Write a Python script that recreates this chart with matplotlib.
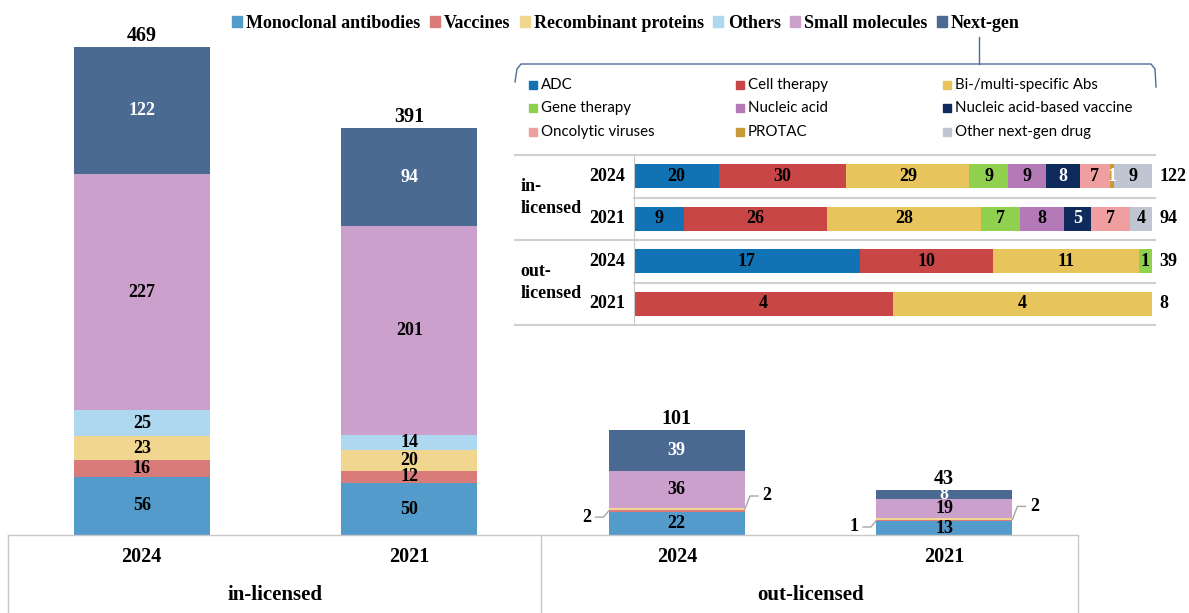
import matplotlib
matplotlib.use('Agg')
import matplotlib.pyplot as plt
from matplotlib.patches import Rectangle
from matplotlib.lines import Line2D
import numpy as np

plt.rcParams['font.family'] = ['Liberation Serif', 'DejaVu Serif']
plt.rcParams['font.weight'] = 'bold'

# main chart data
groups = ['in-licensed', 'out-licensed']
years = ['2024', '2021', '2024', '2021']
modalities = ['Monoclonal antibodies', 'Vaccines', 'Recombinant proteins',
              'Others', 'Small molecules', 'Next-gen']
monoclonal = [56, 50, 22, 13]
vaccines = [16, 12, 2, 1]
recombinant = [23, 20, 2, 2]
others = [25, 14, 0, 0]
small_mol = [227, 201, 36, 19]
next_gen = [122, 94, 39, 8]
main_colors = ['#529bca', '#d87b79', '#f0d68e', '#aed8ef', '#cba0cc', '#4b6a91']

# next-gen breakdown (inset)
ng_types = ['ADC', 'Cell therapy', 'Bi-/multi-specific Abs', 'Gene therapy',
            'Nucleic acid', 'Nucleic acid-based vaccine', 'Oncolytic viruses',
            'PROTAC', 'Other next-gen drug']
ng_rows = ['2024', '2021', '2024', '2021']
adc = [20, 9, 17, 0]
cell = [30, 26, 10, 4]
bispec = [29, 28, 11, 4]
gene = [9, 7, 1, 0]
nucleic = [9, 8, 0, 0]
na_vaccine = [8, 5, 0, 0]
oncolytic = [7, 7, 0, 0]
protac = [1, 0, 0, 0]
other_ng = [9, 4, 0, 0]
ng_colors = ['#1172b4', '#c84646', '#e8c45c', '#8fd14f', '#b37ab7',
             '#0f2b5c', '#ef9f9f', '#c99a37', '#bfc6d2']
dark_ng = {'Nucleic acid-based vaccine', 'PROTAC'}

W, H = 1189, 613
fig = plt.figure(figsize=(W / 100, H / 100), dpi=100)


def fx(px):
    return px / W


def fy(py):
    return 1 - py / H


# ---------------- main stacked bars ----------------
scale = 1.04  # px per unit
xunit = 267.0  # px per category
ax = fig.add_axes([fx(8), fy(535), fx(1078) - fx(8), 535 / H])
ax.set_xlim(-0.5, 3.5)
ax.set_ylim(0, 535 / scale)
ax.axis('off')

series = [monoclonal, vaccines, recombinant, others, small_mol, next_gen]
x = np.arange(len(years))
bw = 0.51
bottom = np.zeros(len(years))
for name, vals, col in zip(modalities, series, main_colors):
    vals = np.array(vals, dtype=float)
    ax.bar(x, vals, bw, bottom=bottom, color=col, label=name)
    for i, v in enumerate(vals):
        yc = bottom[i] + v / 2
        if v >= 5:
            tc = 'white' if name == 'Next-gen' else 'black'
            ax.text(x[i], yc, f'{int(v)}', ha='center', va='center',
                    fontsize=13, color=tc, fontweight='bold')
        elif v > 0:
            # small segments get a leader line
            s = -1 if name == 'Vaccines' else 1
            xe = x[i] + s * bw / 2
            dy = -6 if s < 0 else 13
            kx = xe + s * 5 / xunit
            ky = yc + dy / scale
            ex = xe + s * 13 / xunit
            ax.plot([xe, kx, ex], [yc, ky, ky], color='#a6a6a6', lw=1,
                    clip_on=False)
            ax.text(xe + s * 22 / xunit, ky, f'{int(v)}', ha='center',
                    va='center', fontsize=13, fontweight='bold')
    bottom += vals

totals = bottom
for i, t in enumerate(totals):
    ax.text(x[i], t + 1, f'{int(t)}', ha='center', va='bottom', fontsize=14.5,
            fontweight='bold')

# table below
lc = '#c8c8c8'
fig.add_artist(Line2D([fx(8), fx(1078)], [fy(535), fy(535)], color=lc, lw=1))
for px in [8, 541, 1078]:
    fig.add_artist(Line2D([fx(px), fx(px)], [fy(535), 0], color=lc, lw=1))
for i, yr in enumerate(years):
    ax.text(x[i], -(557 - 535) / scale, yr, ha='center', va='center',
            fontsize=14.5, fontweight='bold', clip_on=False)
for j, g in enumerate(groups):
    ax.text(0.5 + 2 * j, -(595 - 535) / scale, g, ha='center', va='center',
            fontsize=15, fontweight='bold', clip_on=False)

handles = [Rectangle((0, 0), 1, 1, color=c) for c in main_colors]
fig.legend(handles, modalities, loc='center', bbox_to_anchor=(fx(626), fy(23)),
           ncol=6, frameon=False, handlelength=0.55, handleheight=0.55,
           handletextpad=0.25, columnspacing=0.5,
           prop={'weight': 'bold', 'size': 13})

# ---------------- inset: next-gen breakdown ----------------
ax2 = fig.add_axes([fx(634), fy(325), fx(1152) - fx(634), 170 / H])
ax2.set_xlim(0, 1)
ax2.set_ylim(3.5, -0.5)
for s in ['top', 'right', 'bottom']:
    ax2.spines[s].set_visible(False)
ax2.spines['left'].set_color(lc)
ax2.set_xticks([])
ax2.set_yticks([])

ng_series = [adc, cell, bispec, gene, nucleic, na_vaccine, oncolytic, protac, other_ng]
ng_tot = np.sum(np.array(ng_series), axis=0).astype(float)
left = np.zeros(len(ng_rows))
yy = np.arange(len(ng_rows))
for name, vals, col in zip(ng_types, ng_series, ng_colors):
    vals = np.array(vals, dtype=float)
    frac = vals / ng_tot
    ax2.barh(yy, frac, 0.56, left=left, color=col)
    for i, v in enumerate(vals):
        if v > 0:
            tc = 'white' if name in dark_ng else 'black'
            ax2.text(left[i] + frac[i] / 2, yy[i], f'{int(v)}', ha='center',
                     va='center', fontsize=13, color=tc, fontweight='bold')
    left += frac

for i, t in enumerate(ng_tot):
    ax2.text(1.015, yy[i], f'{int(t)}', ha='left', va='center', fontsize=13,
             fontweight='bold', clip_on=False)
    ax2.text(-0.017, yy[i], ng_rows[i], ha='right', va='center', fontsize=13,
             fontweight='bold', clip_on=False)

# separators
x0 = (515 - 634) / 518
x1 = (1155 - 634) / 518
for yl, start in [(-0.5, x0), (0.5, 0), (1.5, x0), (2.5, 0), (3.5, x0)]:
    ax2.plot([start, x1], [yl, yl], color='#d0d0d0', lw=1.5, clip_on=False)
for j, g in enumerate(groups):
    ax2.text(x0 + 0.01, 0.5 + 2 * j, g.replace('-', '-\n'), ha='left',
             va='center', fontsize=13, fontweight='bold', linespacing=1.45,
             clip_on=False)

# inset legend
for i, (name, col) in enumerate(zip(ng_types, ng_colors)):
    cx = [533, 740, 947][i % 3]
    cy = [85, 108, 132][i // 3]
    fig.add_artist(Rectangle((fx(cx - 4), fy(cy + 4)), 8 / W, 8 / H, color=col))
    fig.text(fx(cx + 8), fy(cy), name, ha='left', va='center', fontsize=10.8,
             family='Lato', fontweight='normal')

# bracket connecting Next-gen to the inset
bc = '#4d6d96'
fig.add_artist(Line2D([fx(979), fx(979)], [fy(37), fy(64)], color=bc, lw=1))
fig.add_artist(Line2D([fx(515), fx(517), fx(521), fx(1151), fx(1155), fx(1156)],
                      [fy(82), fy(69), fy(64), fy(64), fy(69), fy(87)],
                      color=bc, lw=1))

fig.savefig('out.png', dpi=100)
